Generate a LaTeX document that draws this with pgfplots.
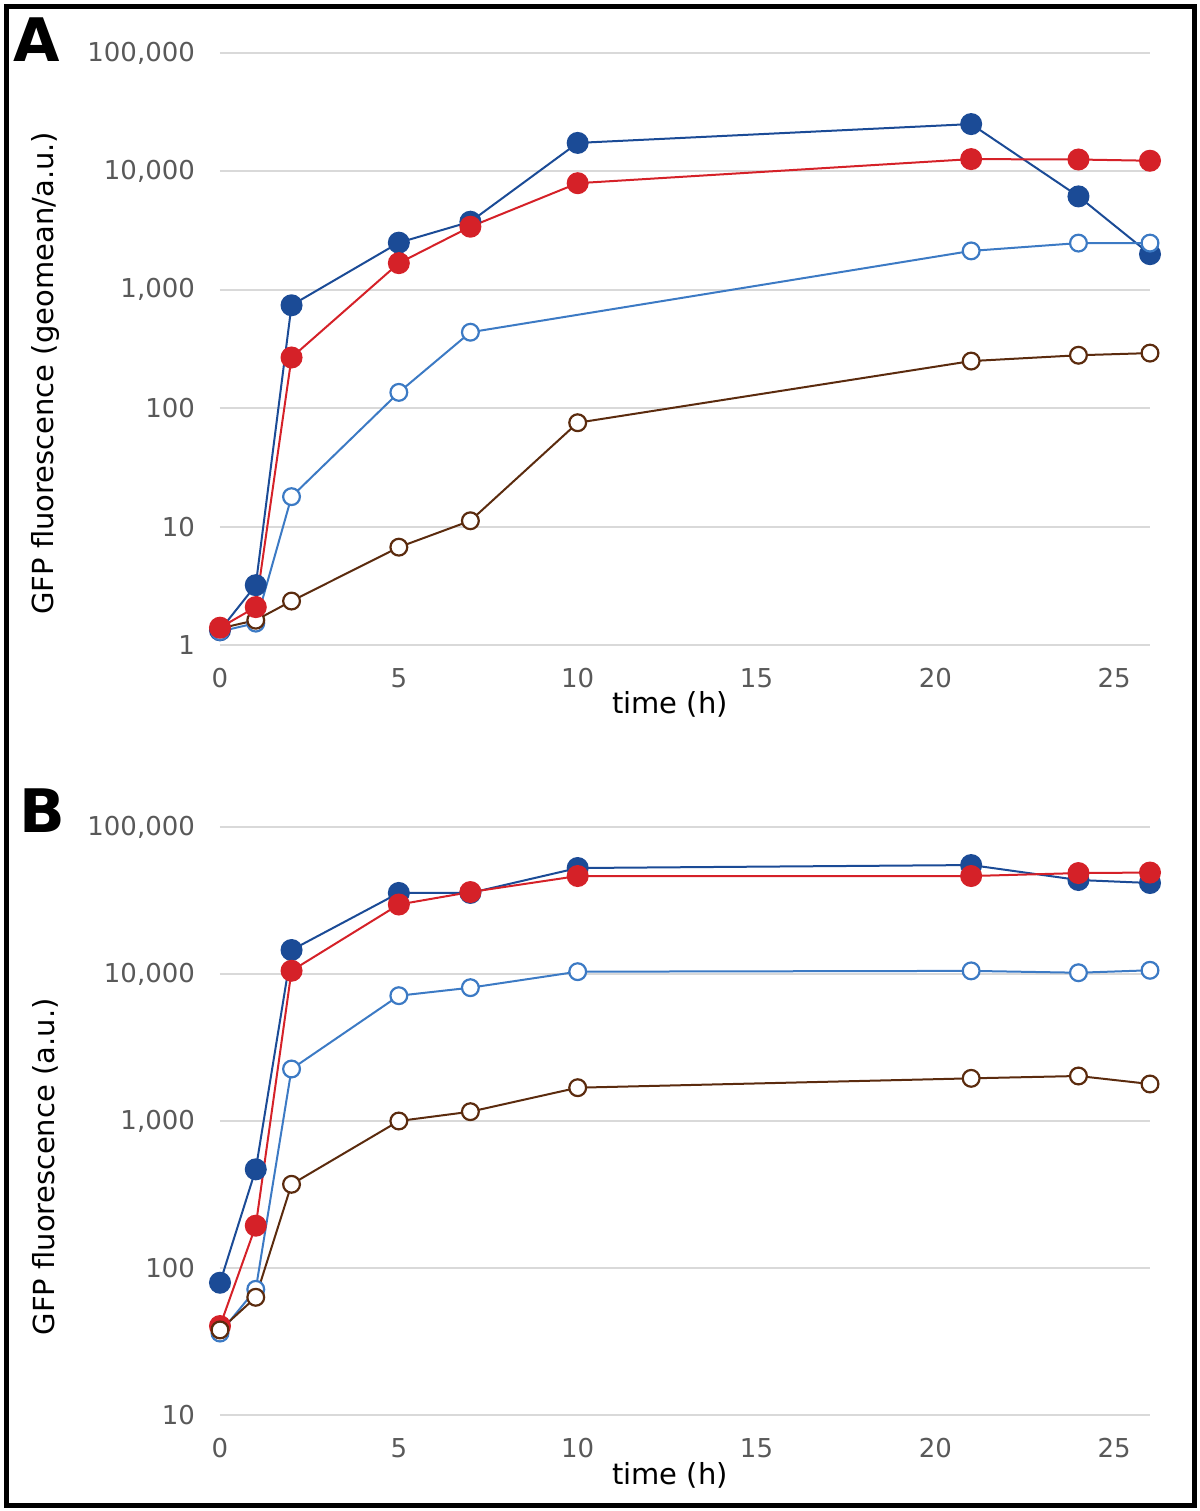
\documentclass[border=0pt]{standalone}
\usepackage{fontspec}
\setmainfont{DejaVu Sans}
\usepackage{pgfplots}
\pgfplotsset{compat=1.18}
\definecolor{dblue}{HTML}{1B4B96}
\definecolor{lblue}{HTML}{3C7AC4}
\definecolor{myred}{HTML}{D52128}
\definecolor{mybrown}{HTML}{5B2B0E}
\definecolor{gridgray}{HTML}{D9D9D9}
\definecolor{tickgray}{HTML}{595959}
\newcommand{\tf}{\fontsize{13}{15}\selectfont}
\pgfplotsset{
  panel/.style={scale only axis, width=465pt, xmin=0, xmax=26,
    xtick={0,5,10,15,20,25}, xticklabels={\tf 0,\tf 5,\tf 10,\tf 15,\tf 20,\tf 25},
    axis lines*=left, axis line style={draw=none},
    tick style={draw=none}, ymajorgrids, major grid style={gridgray, line width=1pt},
    xticklabel style={text=tickgray, yshift=-8pt},
    yticklabel style={text=tickgray, xshift=-9pt},
    label style={font=\fontsize{14.5}{17}\selectfont}, clip=false},
  dk/.style={dblue, line width=1pt, mark=*, mark size=5pt, mark options={fill=dblue, draw=dblue}},
  rd/.style={myred, line width=1pt, mark=*, mark size=5pt, mark options={fill=myred, draw=myred}},
  lb/.style={lblue, line width=1pt, mark=*, mark size=4.2pt, mark options={fill=white, draw=lblue, line width=1.1pt}},
  br/.style={mybrown, line width=1pt, mark=*, mark size=4.2pt, mark options={fill=white, draw=mybrown, line width=1.1pt}},
}
\begin{document}
\begin{tikzpicture}
\useasboundingbox (0,0) rectangle (600pt,755.5pt);
\draw[line width=2.5pt] (3.25pt,2.75pt) rectangle (597.35pt,752.25pt);
\node[font=\fontsize{30}{30}\selectfont\bfseries] at (18.5pt,735.75pt) {A};
\node[font=\fontsize{30}{30}\selectfont\bfseries] at (21pt,350pt) {B};
% Panel A
\begin{axis}[panel, ymode=log,
  at={(110pt,433pt)}, anchor=south west, height=296pt,
  ymin=1, ymax=100000,
  ytick={1,10,100,1000,10000,100000}, yticklabels={\tf 1,\tf 10,\tf 100,{\tf 1,000},{\tf 10,000},{\tf 100,000}},
  xlabel={time (h)}, xlabel style={at={(axis description cs:0.484,-0.0997)}, anchor=center},
  ylabel={GFP fluorescence (geomean/a.u.)}, ylabel style={at={(axis description cs:-0.188,0.459)}, anchor=center}]
\addplot[dk] coordinates {(0,1.33)(1,3.2)(2,740)(5,2500)(7,3760)(10,17400)(21,25100)(24,6150)(26,2000)};
\addplot[lb] coordinates {(0,1.30)(1,1.53)(2,17.9)(5,136)(7,438)(21,2130)(24,2480)(26,2480)};
\addplot[br] coordinates {(0,1.38)(1,1.62)(2,2.35)(5,6.7)(7,11.2)(10,75.4)(21,250)(24,280)(26,292)};
\addplot[rd] coordinates {(0,1.40)(1,2.09)(2,268)(5,1680)(7,3410)(10,7950)(21,12700)(24,12600)(26,12300)};
\end{axis}
% Panel B
\begin{axis}[panel, ymode=log,
  at={(110pt,48pt)}, anchor=south west, height=294pt,
  ymin=10, ymax=100000,
  ytick={10,100,1000,10000,100000}, yticklabels={\tf 10,\tf 100,{\tf 1,000},{\tf 10,000},{\tf 100,000}},
  xlabel={time (h)}, xlabel style={at={(axis description cs:0.484,-0.102)}, anchor=center},
  ylabel={GFP fluorescence (a.u.)}, ylabel style={at={(axis description cs:-0.188,0.422)}, anchor=center}]
\addplot[dk] coordinates {(0,79.4)(1,469)(2,14560)(5,35600)(7,35600)(10,52600)(21,55100)(24,43600)(26,41600)};
\addplot[lb] coordinates {(0,36.1)(1,71.6)(2,2258)(5,7120)(7,8070)(10,10370)(21,10500)(24,10200)(26,10600)};
\addplot[rd] coordinates {(0,40.3)(1,194)(2,10520)(5,29700)(7,36100)(10,46400)(21,46400)(24,48600)(26,49000)};
\addplot[br] coordinates {(0,37.9)(1,63.2)(2,371)(5,1000)(7,1157)(10,1685)(21,1951)(24,2024)(26,1785)};
\end{axis}
\end{tikzpicture}
\end{document}
